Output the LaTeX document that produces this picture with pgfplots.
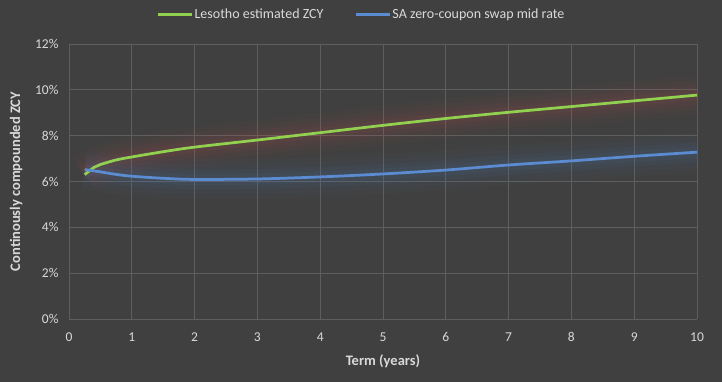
\documentclass[border=0pt]{standalone}
\usepackage{pgfplots}
\pgfplotsset{compat=1.18}
\usepackage{pgfplotstable}
\usepackage{fontspec}
\setmainfont{Carlito}
\definecolor{bg}{HTML}{404040}
\definecolor{txt}{HTML}{D9D9D9}
\definecolor{gridc}{HTML}{5E5E5E}
\definecolor{gline}{HTML}{92D050}
\definecolor{bline}{HTML}{5B8CD2}
\definecolor{rglow}{HTML}{C0504D}
\definecolor{bglow}{HTML}{4F81BD}

\pgfplotstableread{
x y
0.25 6.30
0.4 6.62
0.5 6.74
0.75 6.94
1 7.07
1.5 7.30
2 7.50
3 7.81
4 8.13
5 8.45
6 8.75
7 9.02
8 9.27
9 9.52
10 9.77
}\lesotho

\pgfplotstableread{
x y
0.25 6.52
0.5 6.42
0.75 6.31
1 6.23
1.5 6.14
2 6.09
3 6.11
4 6.20
5 6.33
6 6.50
7 6.72
8 6.90
9 7.10
10 7.28
}\sa

\pgfplotsset{
  rg/.style={forget plot, smooth, rglow, opacity=#1},
  bgl/.style={forget plot, smooth, bglow, opacity=#1},
}

\begin{document}
\begin{tikzpicture}
\fill[bg] (-69bp,-63bp) rectangle (653bp,319bp);
\begin{axis}[
  at={(0,0)}, anchor=south west,
  scale only axis,
  width=628bp, height=275bp,
  xmin=0, xmax=10, ymin=0, ymax=12,
  xtick={0,1,...,10}, ytick={0,2,...,12},
  yticklabel={\pgfmathprintnumber{\tick}\%},
  /pgf/number format/assume math mode=true,
  major tick length=0pt,
  grid=major,
  grid style={gridc, line width=0.75bp},
  axis line style={draw=none},
  ticklabel style={txt, font=\fontsize{13.5bp}{16bp}\selectfont},
  xticklabel style={yshift=-10bp},
  yticklabel style={xshift=-7bp},
  xlabel={Term (years)},
  ylabel={Continously compounded ZCY},
  label style={txt, font=\bfseries\fontsize{14.5bp}{17bp}\selectfont},
  xlabel style={yshift=-6bp},
  ylabel style={yshift=6bp},
  legend style={draw=none, fill=none, text=txt, font=\fontsize{14bp}{16bp}\selectfont,
    at={(rel axis cs:0.465,1)}, anchor=south, yshift=23bp, legend columns=2,
    inner sep=0pt, outer sep=0pt,
    /tikz/every odd column/.append style={column sep=0pt},
    /tikz/every even column/.append style={column sep=30bp},
    nodes={inner sep=1bp}},
  legend image code/.code={\draw[#1, line width=3bp] (0bp,0bp) -- (34bp,0bp);},
]
\draw[gridc!70!white, line width=1bp] (axis cs:0,0) -- (axis cs:10,0);
% glows
\addplot[rg=0.035, line width=40bp] table {\lesotho};
\addplot[rg=0.045, line width=30bp] table {\lesotho};
\addplot[rg=0.06, line width=20bp] table {\lesotho};
\addplot[rg=0.08, line width=11bp] table {\lesotho};
\addplot[bgl=0.035, line width=40bp] table {\sa};
\addplot[bgl=0.045, line width=30bp] table {\sa};
\addplot[bgl=0.06, line width=20bp] table {\sa};
\addplot[bgl=0.08, line width=11bp] table {\sa};
\addplot[smooth, gline, line width=2.75bp] table {\lesotho};
\addlegendentry{Lesotho estimated ZCY}
\addplot[smooth, bline, line width=2.75bp] table {\sa};
\addlegendentry{SA zero-coupon swap mid rate}
\end{axis}
\end{tikzpicture}
\end{document}
